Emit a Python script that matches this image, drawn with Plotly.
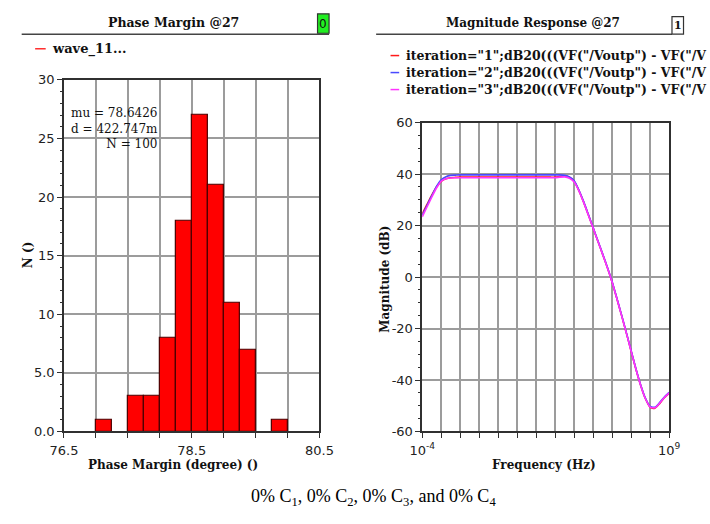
import plotly.graph_objects as go

W, H = 710, 524

# ---- Phase margin histogram (100 Monte Carlo runs), empty bins omitted ----
pm_bin_center = [77.125, 77.625, 77.875, 78.125, 78.375,
                 78.625, 78.875, 79.125, 79.375, 79.875]
pm_count = [1, 3, 3, 8, 18, 27, 21, 11, 7, 1]
pm_bin_width = 0.25
pm_stats = ["mu = 78.6426", "d = 422.747m", "N = 100"]

hist_xtickvals = [76.5, 78.5, 80.5]
hist_xticktext = ["76.5", "78.5", "80.5"]
hist_ytickvals = [0, 5, 10, 15, 20, 25, 30]
hist_yticktext = ["0.0", "5.0", "10", "15", "20", "25", "30"]

# ---- Magnitude response, three iterations ----
log10_freq = [-4.0, -3.75, -3.5, -3.25, -3.0, -2.75, -2.5, -2.25,
              -2.0, -1.75, -1.5, -1.25, -1.0, -0.75, -0.5, -0.25,
              0.0, 0.25, 0.5, 0.75, 1.0, 1.25, 1.5, 1.75, 2.0, 2.25,
              2.5, 2.75, 3.0, 3.25, 3.5, 3.75, 4.0, 4.25, 4.5, 4.75,
              5.0, 5.25, 5.5, 5.75, 6.0, 6.25, 6.5, 6.75, 7.0, 7.25,
              7.5, 7.75, 8.0, 8.25, 8.5, 8.75, 9.0]

mag_iter1 = [24.6, 28.2, 31.8, 35.0, 37.2, 38.2, 38.6, 38.7,
             38.8, 38.8, 38.8, 38.8, 38.8, 38.8, 38.8, 38.8,
             38.8, 38.8, 38.8, 38.8, 38.8, 38.8, 38.8, 38.8, 38.8, 38.8,
             38.8, 38.8, 38.8, 39.1, 39.3, 38.8, 37.2, 33.6, 29.1, 24.1,
             19.0, 13.9, 8.8, 3.6, -2.0, -8.4, -15.0, -21.8, -28.8, -35.7,
             -42.0, -47.2, -50.6, -51.0, -49.2, -46.9, -45.2]

mag_iter2 = [24.0, 27.8, 31.5, 35.2, 37.8, 39.0, 39.5, 39.6,
             39.7, 39.7, 39.7, 39.7, 39.7, 39.7, 39.7, 39.7,
             39.7, 39.7, 39.7, 39.7, 39.7, 39.7, 39.7, 39.7, 39.7, 39.7,
             39.7, 39.7, 39.7, 39.7, 39.5, 38.9, 37.4, 33.8, 29.3, 24.3,
             19.2, 14.1, 9.0, 3.8, -1.8, -8.2, -14.8, -21.6, -28.6, -35.5,
             -41.8, -47.0, -50.3, -50.6, -48.8, -46.6, -44.8]

mag_iter3 = [23.4, 27.2, 31.0, 34.6, 37.3, 38.2, 38.5, 38.6,
             38.6, 38.6, 38.6, 38.6, 38.6, 38.6, 38.6, 38.6,
             38.6, 38.6, 38.6, 38.6, 38.6, 38.6, 38.6, 38.6, 38.6, 38.6,
             38.6, 38.6, 38.6, 38.8, 38.9, 38.4, 36.9, 33.5, 29.0, 24.0,
             19.0, 13.9, 8.8, 3.6, -2.0, -8.4, -15.0, -21.8, -28.8, -35.7,
             -42.0, -47.2, -50.5, -50.8, -49.0, -46.8, -45.0]

mag_xtickvals = [1e-4, 1e9]
mag_xticktext = ["10<sup>-4</sup>", "10<sup>9</sup>"]
mag_ytickvals = [-60, -40, -20, 0, 20, 40, 60]
mag_yticktext = ["-60", "-40", "-20", "0", "20", "40", "60"]

legend_mag = ['iteration="1";dB20(((VF("/Voutp") - VF("/V',
              'iteration="2";dB20(((VF("/Voutp") - VF("/V',
              'iteration="3";dB20(((VF("/Voutp") - VF("/V']
colors_mag = ["#ff1a1a", "#4a4aff", "#ff33ff"]

freq_hz = [10 ** e for e in log10_freq]


def px(x):
    return x / W


def py(y):
    return 1 - y / H


SERIF = "DejaVu Serif"
SANS = "DejaVu Sans"
GRID = "#9c9c9c"

fig = go.Figure()

fig.add_trace(go.Bar(
    x=pm_bin_center, y=pm_count, width=pm_bin_width,
    marker=dict(color="#ff0000", line=dict(color="#4a0000", width=1.2)),
    xaxis="x", yaxis="y", showlegend=False,
))

for vals, col in zip([mag_iter1, mag_iter2, mag_iter3], colors_mag):
    fig.add_trace(go.Scatter(
        x=freq_hz, y=vals, mode="lines",
        line=dict(color=col, width=1.6, shape="spline", smoothing=0.6),
        xaxis="x2", yaxis="y2", showlegend=False,
    ))

axis_common = dict(
    showline=True, linecolor="#303030", linewidth=1.5, mirror=True,
    showgrid=True, gridcolor=GRID, gridwidth=1.5,
    zeroline=False, ticks="outside", ticklen=5, tickcolor="#303030",
    tickfont=dict(family=SANS, size=13, color="#222"),
)
grid_minor = dict(showgrid=True, gridcolor=GRID, gridwidth=1.5,
                  ticks="outside", ticklen=5, tickcolor="#303030")

fig.update_layout(
    width=W, height=H,
    margin=dict(l=0, r=0, t=0, b=0),
    paper_bgcolor="white", plot_bgcolor="white",
    bargap=0,
    xaxis=dict(axis_common, domain=[px(52), px(318)], range=[76.5, 80.5],
               anchor="y", tickmode="array", tickvals=hist_xtickvals,
               ticktext=hist_xticktext, ticklabelstandoff=1,
               minor=dict(grid_minor, tick0=76.5, dtick=0.5)),
    yaxis=dict(axis_common, domain=[py(437), py(75)], range=[0, 30],
               anchor="x", tickmode="array", tickvals=hist_ytickvals,
               ticktext=hist_yticktext,
               minor=dict(dtick=1, ticklen=2, tickcolor="#303030",
                          showgrid=False, ticks="outside")),
    xaxis2=dict(axis_common, domain=[px(425), px(682)], type="log",
                range=[-4, 9], anchor="y2", tickmode="array",
                tickvals=mag_xtickvals, ticktext=mag_xticktext,
                ticklabelstandoff=1,
                minor=dict(grid_minor, tick0=0, dtick=1)),
    yaxis2=dict(axis_common, domain=[py(437), py(119)], range=[-60, 60],
                anchor="x2", tickmode="array", tickvals=mag_ytickvals,
                ticktext=mag_yticktext,
                minor=dict(dtick=5, ticklen=2, tickcolor="#303030",
                           showgrid=False, ticks="outside")),
)

ann = []
shapes = []


def text(x, y, s, size=12, family=SERIF, bold=False, xanchor="center",
         yanchor="middle", angle=0, color="#111", align="center"):
    ann.append(dict(
        x=px(x), y=py(y), xref="paper", yref="paper", showarrow=False,
        text=f"<b>{s}</b>" if bold else s, xanchor=xanchor, yanchor=yanchor,
        textangle=angle, align=align,
        font=dict(family=family, size=size, color=color),
    ))


def hline(x0, x1, y, color, width):
    shapes.append(dict(type="line", xref="paper", yref="paper",
                       x0=px(x0), x1=px(x1), y0=py(y), y1=py(y),
                       line=dict(color=color, width=width)))


def box(x0, y0, x1, y1, fill):
    shapes.append(dict(type="rect", xref="paper", yref="paper",
                       x0=px(x0), x1=px(x1), y0=py(y1), y1=py(y0),
                       fillcolor=fill, line=dict(color="#333", width=1.2)))


# Panel headers
text(166, 16, "Phase Margin @27", size=12.5, bold=True)
hline(8, 328, 28, "#444", 1.5)
box(316, 7, 328, 27, "#22ee22")
text(322, 18, "0", size=12, family=SANS)

text(540, 16, "Magnitude Response @27", size=12, bold=True)
hline(377, 685, 28, "#444", 1.5)
box(685, 10, 697, 28, "white")
text(691, 19, "1", size=11, bold=True)

# Legends
hline(22, 33, 43, "#ff3030", 1.5)
text(37, 43, "wave_11...", size=13, bold=True, xanchor="left")
for i, (lab, col) in enumerate(zip(legend_mag, colors_mag)):
    yy = 50 + i * 17.5
    hline(392, 401, yy, col, 1.5)
    text(406, yy, lab, size=12.5, bold=True, xanchor="left")

# Statistics block
text(152, 125, "<br>".join(pm_stats), size=12, xanchor="right",
     align="right")

# Axis titles
text(14, 255, "N ()", size=12, bold=True, angle=-90)
text(166, 471, "Phase Margin (degree) ()", size=12, bold=True)
text(386, 280, "Magnitude (dB)", size=12, bold=True, angle=-90)
text(552, 471, "Frequency (Hz)", size=12, bold=True)

# Caption
text(374, 505, "0% C<sub>1</sub>, 0% C<sub>2</sub>, 0% C<sub>3</sub>, and 0% C<sub>4</sub>",
     size=18, family="Liberation Serif", color="#000")

fig.update_layout(annotations=ann, shapes=shapes)
fig.write_html("out.html")
